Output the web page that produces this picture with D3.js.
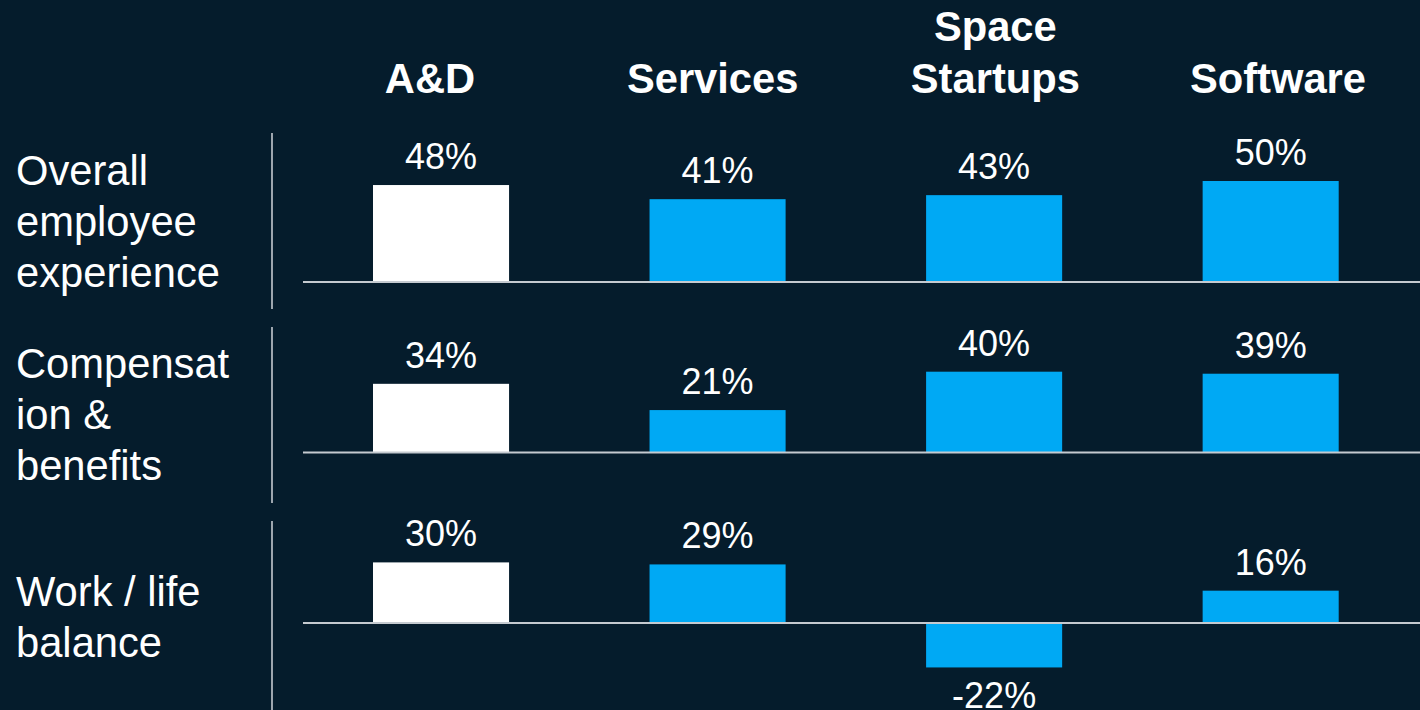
<!DOCTYPE html>
<html>
<head>
<meta charset="utf-8">
<script src="https://cdn.jsdelivr.net/npm/d3@7"></script>
<style>
  body { margin: 0; background: #051c2c; }
  svg { display: block; font-family: "Liberation Sans", Arial, sans-serif; }
</style>
</head>
<body>
<div id="chart"></div>
<script>
// data
var categories = ["A&D", "Services", "Space Startups", "Software"];
var rows = ["Overall employee experience", "Compensation & benefits", "Work / life balance"];
var rowLabelLines = [
    ["Overall", "employee", "experience"],
    ["Compensat", "ion &", "benefits"],
    ["Work / life", "balance"]
];
var overallValues = [48, 41, 43, 50];
var compValues = [34, 21, 40, 39];
var workLifeValues = [30, 29, -22, 16];
var seriesValues = [overallValues, compValues, workLifeValues];

var svgWidth = 1420;
var svgHeight = 710;

var bg = "#051c2c";
var cyan = "#00a9f4";
var lineColor = "#c5cad0";

var svg = d3.select("#chart")
    .append("svg")
    .attr("width", svgWidth)
    .attr("height", svgHeight);

svg.append("rect")
    .attr("width", svgWidth)
    .attr("height", svgHeight)
    .attr("fill", bg);

// x scale for the columns
var xScale = d3.scaleBand()
    .domain(categories)
    .range([373, 1338.7])
    .paddingInner(0.508)
    .paddingOuter(0);

// header text boxes sit a little off the bar centres
var headerScale = d3.scalePoint()
    .domain(categories)
    .range([430, 1278]);

// zero line of each row
var rowScale = d3.scalePoint()
    .domain(rows)
    .range([282, 623]);

// bar length per percent
var hScale = d3.scaleLinear()
    .domain([0, 50])
    .range([0, 101]);

// column headers (bold, may wrap)
var headerLines = categories.map(c => c === "Space Startups" ? ["Space", "Startups"] : [c]);
var headers = svg.append("g").selectAll("text")
    .data(categories)
    .enter()
    .append("text")
    .attr("text-anchor", "middle")
    .attr("fill", "white")
    .attr("font-size", "41.7px")
    .attr("font-weight", "bold");

headers.each(function(d, i) {
    var lines = headerLines[i];
    var t = d3.select(this);
    lines.forEach(function(line, j) {
        t.append("tspan")
            .attr("x", headerScale(d))
            .attr("y", 93 - (lines.length - 1 - j) * 52)
            .text(line);
    });
});

// row label centre lines and separators
var labelCenter = [236, 429, 631];

rows.forEach(function(row, i) {
    var y0 = rowScale(row);
    var g = svg.append("g");

    // vertical separator
    var sepTop = 133 + i * 194;
    g.append("line")
        .attr("x1", 272).attr("x2", 272)
        .attr("y1", sepTop)
        .attr("y2", i === rows.length - 1 ? svgHeight : sepTop + 176)
        .attr("stroke", lineColor)
        .attr("stroke-width", 1.6);

    // row label
    var lines = rowLabelLines[i];
    var label = g.append("text")
        .attr("fill", "white")
        .attr("font-size", "41.7px");
    lines.forEach(function(line, j) {
        label.append("tspan")
            .attr("x", 16)
            .attr("y", labelCenter[i] + (j - (lines.length - 1) / 2) * 51)
            .text(line);
    });

    var vals = seriesValues[i];

    // bars
    g.selectAll("rect.bar")
        .data(vals)
        .enter()
        .append("rect")
        .attr("class", "bar")
        .attr("x", (d, k) => xScale(categories[k]))
        .attr("width", xScale.bandwidth())
        .attr("y", d => d >= 0 ? y0 - hScale(d) : y0)
        .attr("height", d => hScale(Math.abs(d)))
        .attr("fill", (d, k) => k === 0 ? "white" : cyan);

    // zero line
    g.append("line")
        .attr("x1", 303).attr("x2", svgWidth)
        .attr("y1", y0).attr("y2", y0)
        .attr("stroke", lineColor)
        .attr("stroke-width", 2);

    // value labels
    g.selectAll("text.val")
        .data(vals)
        .enter()
        .append("text")
        .attr("class", "val")
        .attr("x", (d, k) => xScale(categories[k]) + xScale.bandwidth() / 2)
        .attr("y", d => d >= 0 ? y0 - hScale(d) - 16 : y0 + hScale(-d) + 41)
        .attr("text-anchor", "middle")
        .attr("fill", "white")
        .attr("font-size", "36px")
        .text(d => d + "%");
});
</script>
</body>
</html>
